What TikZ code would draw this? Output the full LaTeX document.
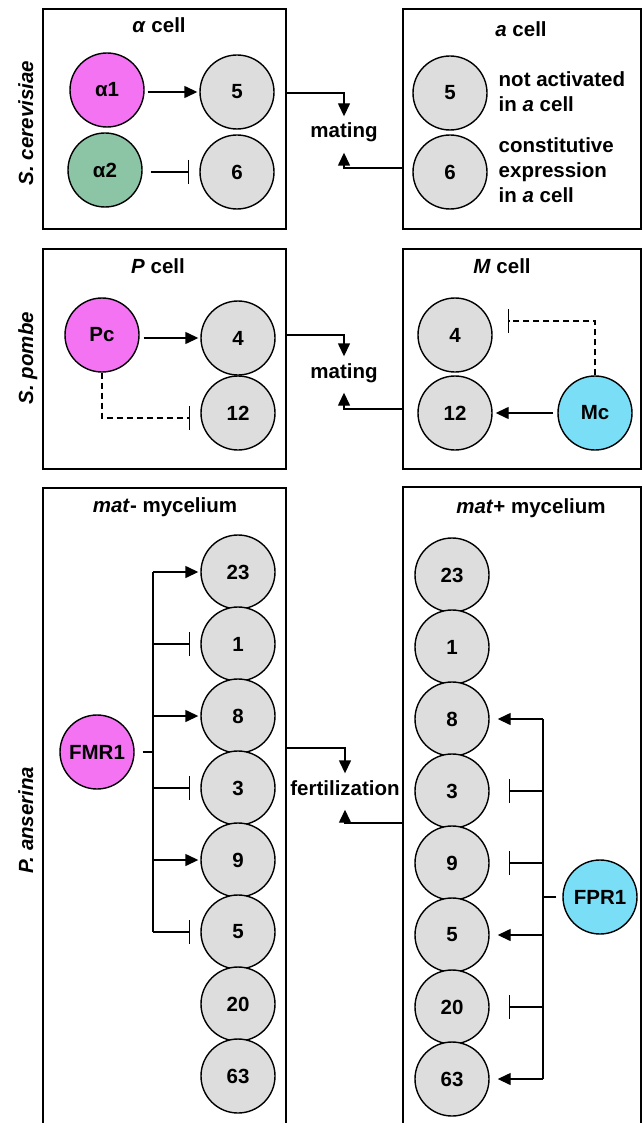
\documentclass[tikz,border=0pt]{standalone}
\usepackage{fontspec}
\setmainfont{Liberation Sans}
\usetikzlibrary{arrows.meta,calc}
\definecolor{magc}{RGB}{243,115,243}
\definecolor{grnc}{RGB}{140,196,166}
\definecolor{cyac}{RGB}{122,222,246}
\definecolor{gryc}{RGB}{221,221,221}
\newcommand\inhbar[1]{\draw[solid] (#1) ++(0,-12) -- ++(0,24);}
\begin{document}
\begin{tikzpicture}[x=1pt,y=-1pt,line width=1.4pt,
  font=\fontsize{20.5}{25}\selectfont\bfseries,
  gene/.style={circle,draw,fill=gryc,minimum size=74pt,inner sep=0pt},
  box/.style={draw,rectangle,inner sep=0pt},
  act/.style={-{Triangle[length=13pt,width=12pt]}},
  dsh/.style={dash pattern=on 6pt off 4pt},
  lbl/.style={text height=15pt,text depth=4pt,inner sep=0pt,anchor=base},
  ttl/.style={inner sep=0pt,anchor=base},
  side/.style={inner sep=0pt,anchor=base,rotate=90}]
\clip (0,0) rectangle (643,1123);
% boxes
\node[box,minimum width=243pt,minimum height=220pt] (b1) at (164.5,119) {};
\node[box,minimum width=238pt,minimum height=220pt] (b2) at (522,119) {};
\node[box,minimum width=243pt,minimum height=220pt] (b3) at (164.5,359) {};
\node[box,minimum width=238pt,minimum height=220pt] (b4) at (522,359) {};
\node[box,minimum width=243pt,minimum height=652pt] (b5) at (164.5,814) {};
\node[box,minimum width=238pt,minimum height=653pt] (b6) at (522,813.5) {};
% side labels
\node[side] (sc) at (33,123) {\textit{S. cerevisiae}};
\node[side] (sp) at (33,358) {\textit{S. pombe}};
\node[side] (pa) at (33,820) {\textit{P. anserina}};
% titles
\node[ttl] (t1) at (159,33) {\textit{α} cell};
\node[ttl] (t2) at (521,37) {\textit{a} cell};
\node[ttl] (t3) at (158,273) {\textit{P} cell};
\node[ttl] (t4) at (502,273) {\textit{M} cell};
\node[ttl] (t5) at (165,512) {\textit{mat}- mycelium};
\node[ttl] (t6) at (531,513) {\textit{mat}+ mycelium};
% S. cerevisiae
\node[gene,fill=magc] (a1) at (107,90) {α1};
\node[gene,fill=grnc] (a2) at (105,170) {α2};
\node[gene] (c5a) at (237,92) {5};
\node[gene] (c6a) at (237,172) {6};
\node[gene] (c5b) at (450,93) {5};
\node[gene] (c6b) at (450,172) {6};
\node[inner sep=0pt,anchor=west,align=left] (n5) at (498,92) {not activated\\in \textit{a} cell};
\node[inner sep=0pt,anchor=west,align=left] (n6) at (498,170) {constitutive\\expression\\in \textit{a} cell};
\draw[act,shorten <=3pt,shorten >=2pt] (a1.east |- c5a) -- (c5a.west);
\draw[shorten <=8pt] (a2.east |- c6a) -- ($(c6a.west)+(-11,0)$) coordinate (e6a);
\inhbar{e6a}
% S. pombe
\node[gene,fill=magc] (pc) at (102,335) {Pc};
\node[gene] (c4p) at (238,338) {4};
\node[gene] (c12p) at (238,413) {12};
\node[gene] (c4m) at (455,335) {4};
\node[gene] (c12m) at (455,413) {12};
\node[gene,fill=cyac] (mc) at (595,413) {Mc};
\coordinate (y418) at (0,418);
\coordinate (y321) at (0,321);
\draw[act,shorten <=4pt,shorten >=2pt] (pc.east |- c4p) -- (c4p.west);
\draw[dsh] (pc.south) -- (pc.south |- y418) -- ($(c12p.west |- y418)+(-11,0)$) coordinate (e12p);
\inhbar{e12p}
\draw[act,shorten <=4pt,shorten >=3pt] (mc.west) -- (c12m.east);
\draw[dsh] (mc.north) -- (mc.north |- y321) -- ($(c4m.east |- y321)+(16,0)$) coordinate (e4m);
\inhbar{e4m}
% P. anserina left
\node[gene,fill=magc] (fmr) at (97,752) {FMR1};
\foreach \n/\y in {L23/572,L1/644,L8/716,L3/788,L9/860,L5/932,L20/1004,L63/1076}{
  \node[gene] (\n) at (238,\y) {};}
\foreach \n/\t in {L23/23,L1/1,L8/8,L3/3,L9/9,L5/5,L20/20,L63/63}{
  \node[inner sep=0pt] (x\n) at (\n) {\t};}
\coordinate (fbus) at (153,752);
\draw[shorten <=8pt] (fmr.east) -- (fbus);
\draw (fbus |- L23) -- (fbus |- L5);
\foreach \n in {L23,L8,L9}{\draw[act,shorten >=2pt] (fbus |- \n) -- (\n.west);}
\foreach \n in {L1,L3,L5}{\draw (fbus |- \n) -- ($(\n.west)+(-11,0)$) coordinate (e\n); \inhbar{e\n}}
% P. anserina right
\node[gene,fill=cyac] (fpr) at (600,897) {FPR1};
\foreach \n/\y in {R23/575,R1/647,R8/719,R3/791,R9/863,R5/935,R20/1007,R63/1079}{
  \node[gene] (\n) at (452,\y) {};}
\foreach \n/\t in {R23/23,R1/1,R8/8,R3/3,R9/9,R5/5,R20/20,R63/63}{
  \node[inner sep=0pt] (x\n) at (\n) {\t};}
\coordinate (rbus) at (543,897);
\draw[shorten <=6pt] (fpr.west) -- (rbus);
\draw (rbus |- R8) -- (rbus |- R63);
\foreach \n in {R8,R5,R63}{\draw[act,shorten >=8pt] (rbus |- \n) -- (\n.east);}
\foreach \n in {R3,R9,R20}{\draw (rbus |- \n) -- ($(\n.east)+(20,0)$) coordinate (e\n); \inhbar{e\n}}
% mating / fertilization
\node[lbl] (mat1) at (344,138) {mating};
\node[lbl] (mat2) at (344,378) {mating};
\node[lbl] (fert) at (345,795) {fertilization};
\coordinate (y93) at (0,93);
\coordinate (y168) at (0,168);
\coordinate (y335) at (0,335);
\coordinate (y409) at (0,409);
\coordinate (y748) at (0,748);
\coordinate (y823) at (0,823);
\draw[act,shorten >=6pt] (b1.east |- y93) -| (mat1.north);
\draw[act,shorten >=10pt] (b2.west |- y168) -| (mat1.south);
\draw[act,shorten >=6pt] (b3.east |- y335) -| (mat2.north);
\draw[act,shorten >=10pt] (b4.west |- y409) -| (mat2.south);
\draw[act,shorten >=6pt] (b5.east |- y748) -| (fert.north);
\draw[act,shorten >=10pt] (b6.west |- y823) -| (fert.south);
\end{tikzpicture}
\end{document}
